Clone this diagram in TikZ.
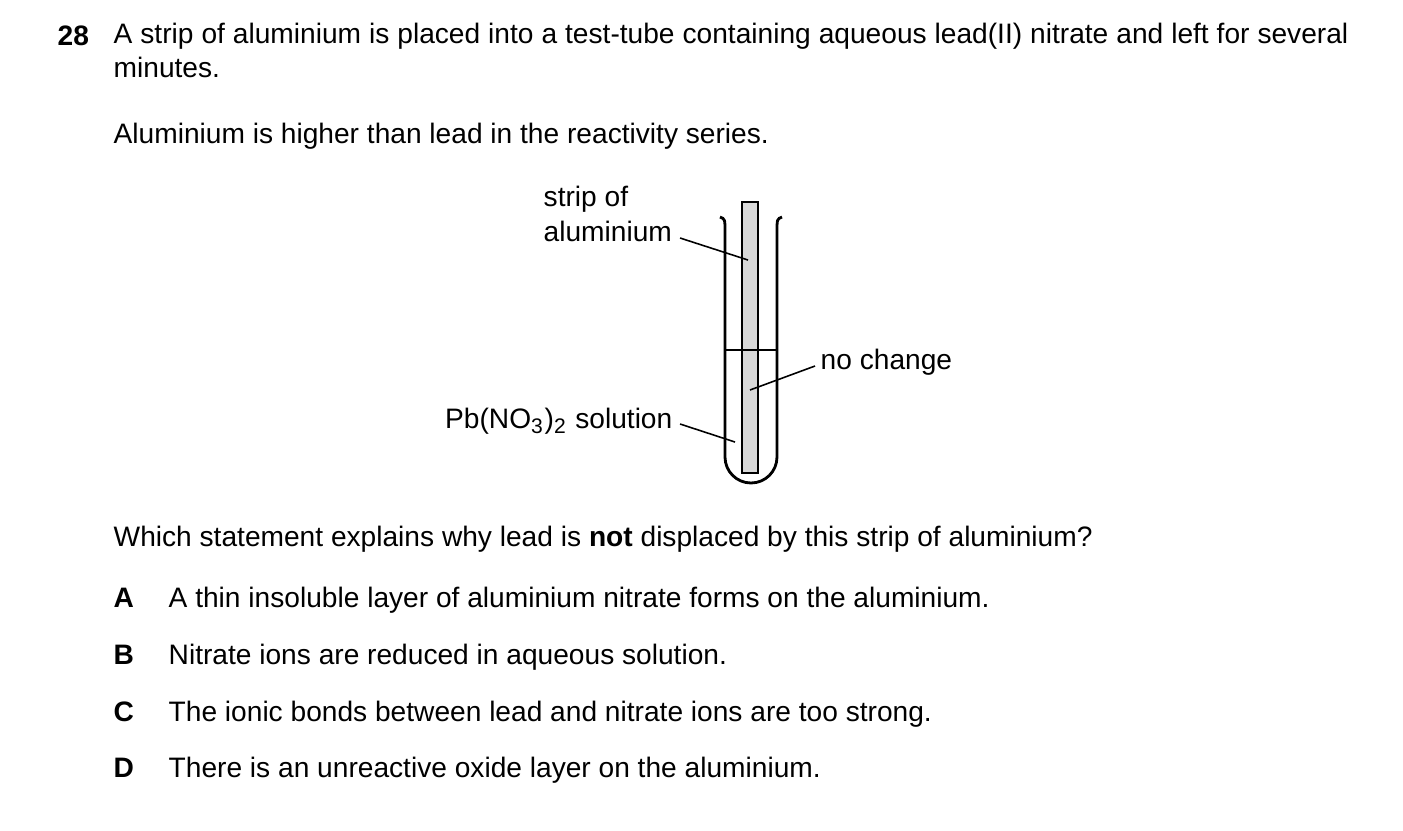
\documentclass[tikz,border=0pt]{standalone}
\usepackage{fontspec}
\setmainfont{Liberation Sans}
\usetikzlibrary{positioning}
\tikzset{
	txt/.style = {inner sep=0pt, anchor=base west, font=\fontsize{8}{9.9}\selectfont},
	leader/.style = {line width=0.45pt},
	glass/.style = {line width=0.8pt}
}
\begin{document}
\begin{tikzpicture}[x=0.01cm, y=-0.01cm]
\useasboundingbox (0,0) rectangle (1403,830);
	% question text
	\node (num) [txt, font=\fontsize{8}{9.9}\selectfont\bfseries] at (57,45) {28};
	\node (intro) [txt, anchor=north west, text width=12.34cm, align=justify] at (113,22) {A strip of aluminium is placed into a test-tube containing aqueous lead(II) nitrate and left for several minutes.};
	\node (fact) [txt] at (113,143) {Aluminium is higher than lead in the reactivity series.};
	% test-tube and strip
	\fill[gray!30] (742,202) rectangle (758,473);
	\draw[glass] (742,202) rectangle (758,473);
	\draw[glass] (720,217) .. controls (725,219) .. (725,232) -- (725,457) arc[start angle=180, end angle=0, radius=26] -- (777,232) .. controls (777,219) .. (782,217);
	\draw[glass] (725,350) -- (777,350);
	% labels
	\node (strip1) [txt] at (543,206) {strip of};
	\node (strip2) [txt] at (543,241) {aluminium};
	\coordinate (stripend) at (748,260);
	\draw[leader] (680,238) -- (stripend);
	\node (change) [txt] at (820,369) {no change};
	\coordinate (changeend) at (750,390);
	\draw[leader] (815,366) -- (changeend);
	\node (soln) [txt, anchor=base east] at (673,428) {Pb(NO\textsubscript{3})\textsubscript{2} solution};
	\coordinate (solnend) at (735,442);
	\draw[leader] (680,424) -- (solnend);
	% options
	\node (ask) [txt] at (113,546) {Which statement explains why lead is \textbf{not} displaced by this strip of aluminium?};
	\foreach \lt/\yy/\opt in {A/607/A thin insoluble layer of aluminium nitrate forms on the aluminium.,
		B/664/Nitrate ions are reduced in aqueous solution.,
		C/721/The ionic bonds between lead and nitrate ions are too strong.,
		D/777/There is an unreactive oxide layer on the aluminium.}{
		\node (lt\lt) [txt, font=\fontsize{8}{9.9}\selectfont\bfseries] at (113,\yy) {\lt};
		\node (op\lt) [txt] at (168,\yy) {\opt};
	}
\end{tikzpicture}
\end{document}
